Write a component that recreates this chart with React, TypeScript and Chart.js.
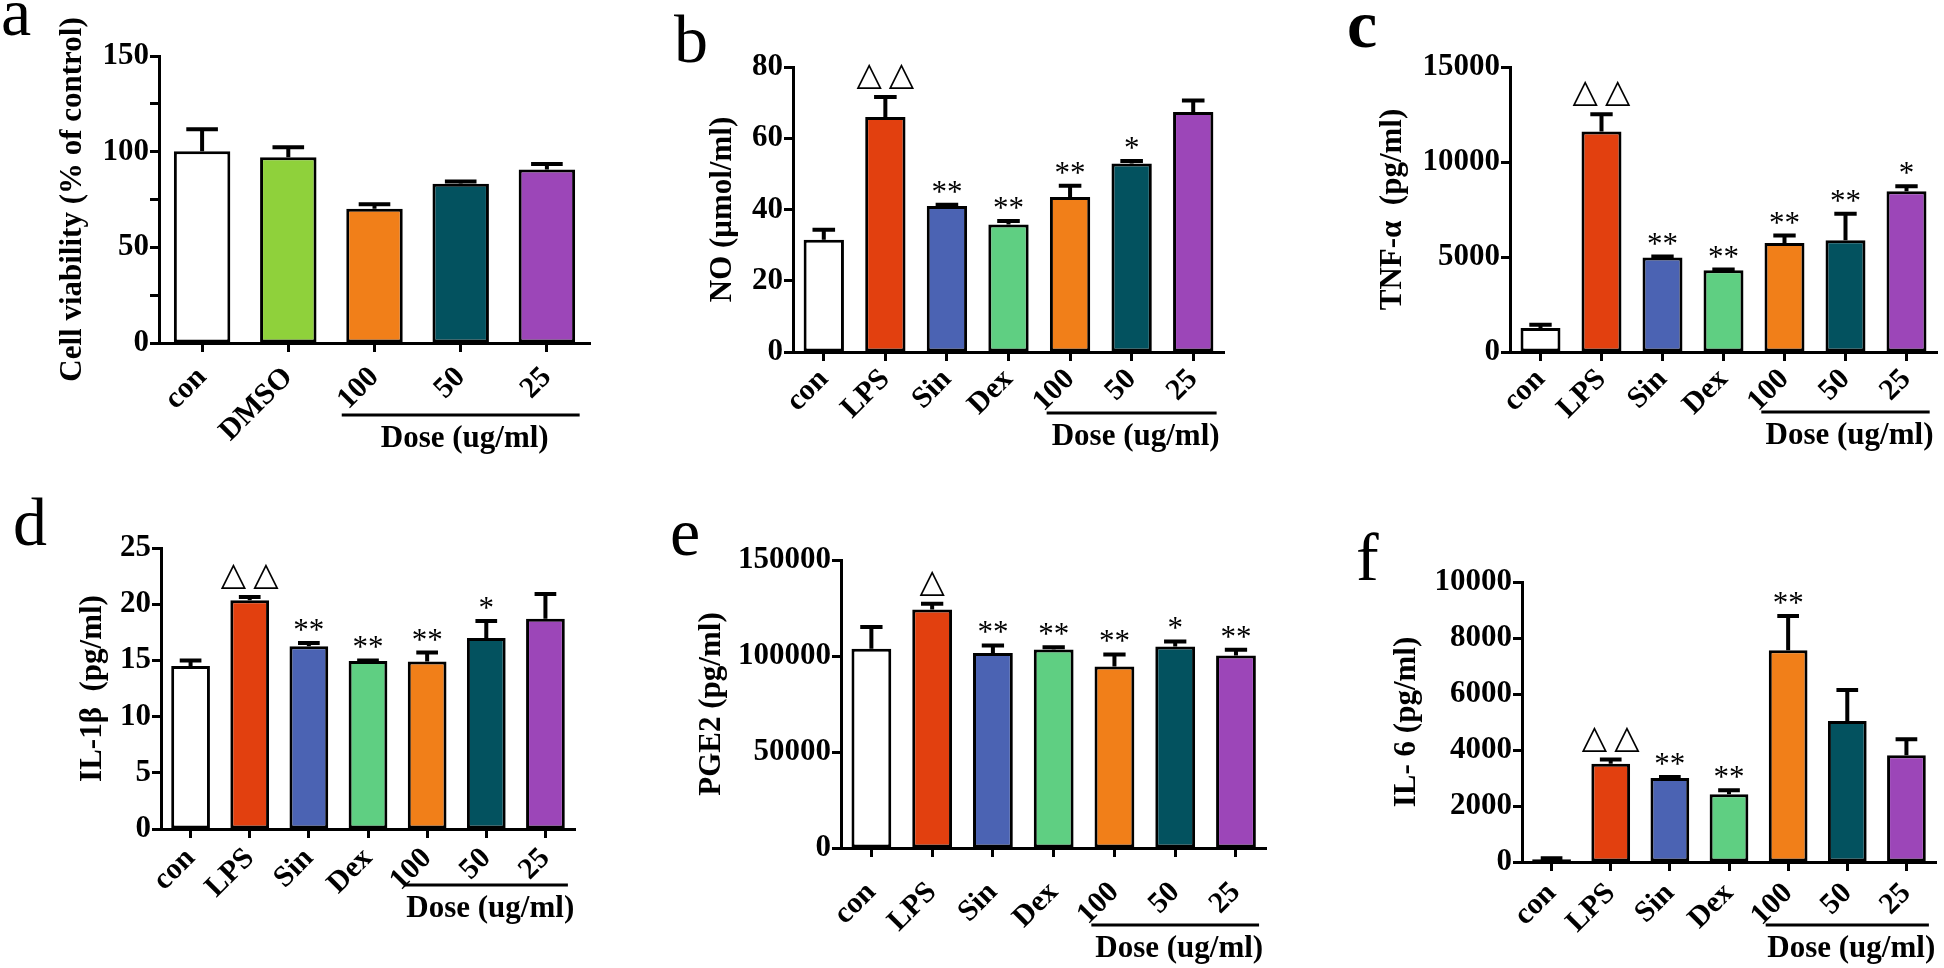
import React, { useEffect, useRef } from 'react';
import { Chart, registerables } from 'chart.js';

Chart.register(...registerables);

const SERIF = "'Liberation Serif', 'Times New Roman', Times, serif";

// ---------- categories ----------
const catsA = ['con', 'DMSO', '100', '50', '25'];
const catsB = ['con', 'LPS', 'Sin', 'Dex', '100', '50', '25'];

// ---------- series values (mean) and error (SD) ----------
const viability = [100.2, 97.1, 70.2, 83.2, 90.7];
const viabilityErr = [11.5, 5.2, 2.3, 1.2, 2.9];

const noVals = [31.5, 66.0, 41.0, 35.8, 43.5, 52.9, 67.4];
const noErr = [2.8, 5.6, 0.3, 1.0, 3.2, 0.7, 3.2];

const tnfVals = [1260, 11610, 4970, 4300, 5740, 5880, 8460];
const tnfErr = [180, 900, 50, 40, 390, 1400, 260];

const il1bVals = [14.5, 20.35, 16.25, 14.95, 14.9, 17.0, 18.7];
const il1bErr = [0.5, 0.3, 0.3, 0.05, 0.8, 1.5, 2.2];

const pge2Vals = [103800, 124200, 101500, 103400, 94500, 105000, 100300];
const pge2Err = [11300, 3000, 4000, 1200, 6300, 2600, 3000];

const il6Vals = [100, 3510, 3000, 2420, 7560, 5040, 3810];
const il6Err = [30, 150, 40, 140, 1230, 1100, 570];

// ---------- significance marks ----------
const marksA = ['', '', '', '', ''];
const marksNO = ['', '△△', '**', '**', '**', '*', ''];
const marksTNF = ['', '△△', '**', '**', '**', '**', '*'];
const marksIL1b = ['', '△△', '**', '**', '**', '*', ''];
const marksPGE2 = ['', '△', '**', '**', '**', '*', '**'];
const marksIL6 = ['', '△△', '**', '**', '**', '', ''];

// ---------- y tick labels ----------
const yTicksA = [0, 50, 100, 150];
const yTicksNO = [0, 20, 40, 60, 80];
const yTicksTNF = [0, 5000, 10000, 15000];
const yTicksIL1b = [0, 5, 10, 15, 20, 25];
const yTicksPGE2 = [0, 50000, 100000, 150000];
const yTicksIL6 = [0, 2000, 4000, 6000, 8000, 10000];

// ---------- colours ----------
const colorsA = ['#ffffff', '#8fd13b', '#f17f19', '#03525f', '#9c46b8'];
const colorsB = ['#ffffff', '#e2400f', '#4b63b3', '#5fcf82', '#f17f19', '#03525f', '#9c46b8'];

type Panel = {
  key: string;
  letter: string;
  letterBold: boolean;
  letterPos: [number, number];
  box: [number, number, number, number];
  area: [number, number, number, number];
  cats: string[];
  values: number[];
  errors: number[];
  marks: string[];
  colors: string[];
  yTicks: number[];
  step: number;
  title: string;
  titlePad: number;
  xPad: number;
  doseOffset: number;
};

const panels: Panel[] = [
  {
    key: 'a', letter: 'a', letterBold: false, letterPos: [1, 35],
    box: [0, 0, 620, 484], area: [159, 56, 590, 343],
    cats: catsA, values: viability, errors: viabilityErr, marks: marksA, colors: colorsA,
    yTicks: yTicksA, step: 25, title: 'Cell viability (% of control)', titlePad: 54, xPad: 8, doseOffset: 72,
  },
  {
    key: 'b', letter: 'b', letterBold: false, letterPos: [54, 62],
    box: [620, 0, 660, 484], area: [173, 67, 604, 352],
    cats: catsB, values: noVals, errors: noErr, marks: marksNO, colors: colorsB,
    yTicks: yTicksNO, step: 20, title: 'NO (μmol/ml)', titlePad: 84, xPad: 1, doseOffset: 61,
  },
  {
    key: 'c', letter: 'c', letterBold: true, letterPos: [67, 47],
    box: [1280, 0, 664, 484], area: [230, 67, 657, 352],
    cats: catsB, values: tnfVals, errors: tnfErr, marks: marksTNF, colors: colorsB,
    yTicks: yTicksTNF, step: 5000, title: 'TNF-α  (pg/ml)', titlePad: 94, xPad: 1, doseOffset: 60,
  },
  {
    key: 'd', letter: 'd', letterBold: false, letterPos: [13, 61],
    box: [0, 484, 620, 484], area: [161, 64, 575, 345],
    cats: catsB, values: il1bVals, errors: il1bErr, marks: marksIL1b, colors: colorsB,
    yTicks: yTicksIL1b, step: 5, title: 'IL-1β  (pg/ml)', titlePad: 74, xPad: 3, doseOffset: 56,
  },
  {
    key: 'e', letter: 'e', letterBold: false, letterPos: [50, 71],
    box: [620, 484, 660, 484], area: [221, 76, 652, 364],
    cats: catsB, values: pge2Vals, errors: pge2Err, marks: marksPGE2, colors: colorsB,
    yTicks: yTicksPGE2, step: 50000, title: 'PGE2 (pg/ml)', titlePad: 73, xPad: 18, doseOffset: 77,
  },
  {
    key: 'f', letter: 'f', letterBold: false, letterPos: [76, 96],
    box: [1280, 484, 664, 484], area: [242, 98, 656, 378],
    cats: catsB, values: il6Vals, errors: il6Err, marks: marksIL6, colors: colorsB,
    yTicks: yTicksIL6, step: 2000, title: 'IL- 6 (pg/ml)', titlePad: 108, xPad: 5, doseOffset: 63,
  },
];

const decoPlugin = {
  id: 'deco',
  afterDatasetsDraw(chart: any, _args: any, opts: any) {
    const p: Panel = opts.panel;
    const ctx: CanvasRenderingContext2D = chart.ctx;
    const meta = chart.getDatasetMeta(0);
    const ys = chart.scales.y;
    ctx.save();
    meta.data.forEach((bar: any, i: number) => {
      const top = ys.getPixelForValue(p.values[i] + p.errors[i]);
      const x = bar.x;
      const w = bar.width;
      ctx.strokeStyle = '#000';
      ctx.lineWidth = 4;
      ctx.lineCap = 'butt';
      ctx.beginPath();
      ctx.moveTo(x, bar.y);
      ctx.lineTo(x, top);
      ctx.moveTo(x - w * 0.28, top);
      ctx.lineTo(x + w * 0.28, top);
      ctx.stroke();
      const mark = p.marks[i];
      if (mark) {
        ctx.fillStyle = '#000';
        ctx.textBaseline = 'alphabetic';
        if (mark.indexOf('△') >= 0) {
          ctx.font = "33px 'DejaVu Sans'";
          const adv = ctx.measureText('△').width;
          const gap = 7;
          const n = mark.length;
          const total = n * adv + (n - 1) * gap;
          ctx.textAlign = 'left';
          for (let k = 0; k < n; k++) {
            ctx.fillText('△', x - total / 2 + k * (adv + gap), top - 12);
          }
        } else {
          ctx.font = `31px ${SERIF}`;
          ctx.textAlign = 'center';
          ctx.fillText(mark, x, top - 3);
        }
      }
    });
    ctx.restore();
  },
  afterDraw(chart: any, _args: any, opts: any) {
    const p: Panel = opts.panel;
    const ctx: CanvasRenderingContext2D = chart.ctx;
    const xs = chart.scales.x;
    ctx.save();
    // panel letter
    ctx.fillStyle = '#000';
    ctx.textAlign = 'left';
    ctx.textBaseline = 'alphabetic';
    ctx.font = `${p.letterBold ? 'bold ' : ''}68px ${SERIF}`;
    ctx.fillText(p.letter, p.letterPos[0], p.letterPos[1]);
    // dose bracket
    const i0 = p.cats.indexOf('100');
    const i1 = p.cats.length - 1;
    const sp = xs.getPixelForValue(1) - xs.getPixelForValue(0);
    const x1 = xs.getPixelForValue(i0) - sp * 0.38;
    const x2 = xs.getPixelForValue(i1) + sp * 0.38;
    const y = chart.chartArea.bottom + p.doseOffset;
    ctx.strokeStyle = '#000';
    ctx.lineWidth = 3;
    ctx.beginPath();
    ctx.moveTo(x1, y);
    ctx.lineTo(x2, y);
    ctx.stroke();
    ctx.font = `bold 31px ${SERIF}`;
    ctx.textAlign = 'center';
    ctx.textBaseline = 'middle';
    ctx.fillText('Dose (ug/ml)', (x1 + x2) / 2 + 4, y + 24);
    ctx.restore();
  },
};

function makeConfig(p: Panel): any {
  const [L, T, R, B] = p.area;
  const W = p.box[2];
  const H = p.box[3];
  return {
    type: 'bar',
    data: {
      labels: p.cats,
      datasets: [
        {
          data: p.values,
          backgroundColor: p.colors,
          borderColor: '#000',
          borderWidth: 3,
          borderSkipped: false,
          barPercentage: 0.655,
          categoryPercentage: 1,
        },
      ],
    },
    options: {
      responsive: false,
      animation: false,
      devicePixelRatio: 1,
      layout: { padding: { left: 0, top: T, right: W - R, bottom: 0 } },
      plugins: {
        legend: { display: false },
        tooltip: { enabled: false },
        deco: { panel: p },
      },
      scales: {
        x: {
          type: 'category',
          offset: true,
          grid: {
            offset: false,
            display: true,
            drawOnChartArea: false,
            drawTicks: true,
            tickLength: 9,
            tickWidth: 3,
            tickColor: '#000',
          },
          border: { display: true, color: '#000', width: 3 },
          ticks: {
            color: '#000',
            font: { family: SERIF, size: 30, weight: 'bold' },
            minRotation: 45,
            maxRotation: 45,
            padding: p.xPad,
            autoSkip: false,
          },
          afterFit: (s: any) => {
            s.height = H - B;
          },
        },
        y: {
          type: 'linear',
          min: 0,
          max: p.yTicks[p.yTicks.length - 1],
          grid: {
            display: true,
            drawOnChartArea: false,
            drawTicks: true,
            tickLength: 9,
            tickWidth: 3,
            tickColor: '#000',
          },
          border: { display: true, color: '#000', width: 3 },
          ticks: {
            stepSize: p.step,
            autoSkip: false,
            color: '#000',
            font: { family: SERIF, size: 31, weight: 'bold' },
            padding: 1,
            callback: (v: any) => (p.yTicks.indexOf(Number(v)) >= 0 ? String(v) : ''),
          },
          title: {
            display: true,
            text: p.title,
            color: '#000',
            font: { family: SERIF, size: 31, weight: 'bold' },
            padding: { top: p.titlePad, bottom: 0 },
          },
          afterFit: (s: any) => {
            s.width = L;
          },
        },
      },
    },
    plugins: [decoPlugin],
  };
}

function PanelChart({ p }: { p: Panel }) {
  const ref = useRef<HTMLCanvasElement>(null);
  useEffect(() => {
    if (!ref.current) return;
    const chart = new Chart(ref.current, makeConfig(p));
    return () => chart.destroy();
  }, [p]);
  const [l, t, w, h] = p.box;
  return (
    <canvas
      ref={ref}
      width={w}
      height={h}
      style={{ position: 'absolute', left: l, top: t, width: w, height: h }}
    />
  );
}

export default function App() {
  useEffect(() => {
    document.body.style.margin = '0';
    document.body.style.overflow = 'hidden';
  }, []);
  return (
    <div
      style={{
        position: 'absolute',
        left: 0,
        top: 0,
        width: 1944,
        height: 968,
        background: '#ffffff',
        overflow: 'hidden',
      }}
    >
      {panels.map((p) => (
        <PanelChart key={p.key} p={p} />
      ))}
    </div>
  );
}
